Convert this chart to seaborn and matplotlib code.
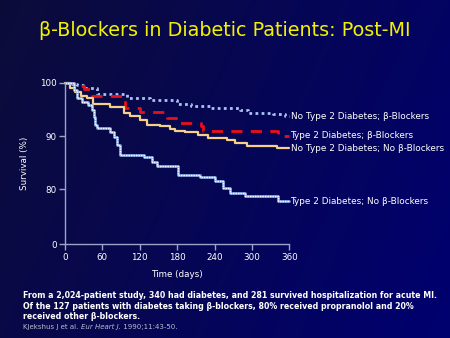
import numpy as np
import pandas as pd
import matplotlib
matplotlib.use("Agg")
import matplotlib.pyplot as plt
import seaborn as sns

# ---- data ----
series_names = [
    "No Type 2 Diabetes; β-Blockers",
    "Type 2 Diabetes; β-Blockers",
    "No Type 2 Diabetes; No β-Blockers",
    "Type 2 Diabetes; No β-Blockers",
]
nd_bb_days = [0, 12, 19, 29, 51, 99, 136, 179, 203, 235, 281, 294, 334, 353, 360]
nd_bb_surv = [100, 99.8, 99.5, 99.0, 97.9, 97.1, 96.8, 96.0, 95.7, 95.2, 94.9, 94.4, 94.1, 93.7, 93.7]

d_bb_days = [0, 14, 30, 43, 96, 120, 163, 181, 219, 222, 342, 360]
d_bb_surv = [100, 99.3, 98.8, 97.6, 95.2, 94.6, 93.3, 92.4, 91.8, 91.0, 90.1, 90.1]

nd_nb_days = [0, 8, 16, 25, 35, 45, 72, 94, 104, 120, 131, 152, 169, 177, 193, 213, 230, 260, 273, 292, 340, 360]
nd_nb_surv = [100, 99.0, 98.2, 97.6, 97.1, 96.1, 95.5, 94.3, 93.8, 93.0, 92.1, 91.8, 91.3, 91.0, 90.7, 90.2, 89.7, 89.3, 88.7, 88.2, 87.7, 87.7]

d_nb_days = [0, 12, 15, 19, 27, 37, 43, 46, 48, 51, 64, 72, 78, 83, 88, 126, 139, 147, 182, 217, 241, 254, 265, 289, 342, 360]
d_nb_surv = [100, 99.9, 98.6, 97.1, 96.4, 95.8, 94.9, 93.6, 92.1, 91.6, 91.5, 90.8, 89.9, 88.4, 86.5, 86.1, 85.2, 84.3, 82.7, 82.4, 81.5, 80.3, 79.3, 78.8, 77.8, 77.8]

x_ticks = [0, 60, 120, 180, 240, 300, 360]
y_tick_vals = [69.7, 80, 90, 100]
y_tick_labels = ["0", "80", "90", "100"]

title = "β-Blockers in Diabetic Patients: Post-MI"
note_lines = [
    "From a 2,024-patient study, 340 had diabetes, and 281 survived hospitalization for acute MI.",
    "Of the 127 patients with diabetes taking β-blockers, 80% received propranolol and 20%",
    "received other β-blockers.",
]
citation_parts = [("Kjekshus J et al. ", "normal"), ("Eur Heart J.", "italic"), (" 1990;11:43-50.", "normal")]

frames = []
for name, d, s in zip(series_names,
                      [nd_bb_days, d_bb_days, nd_nb_days, d_nb_days],
                      [nd_bb_surv, d_bb_surv, nd_nb_surv, d_nb_surv]):
    frames.append(pd.DataFrame({"day": d, "surv": s, "group": name}))
df = pd.concat(frames, ignore_index=True)

sns.set_theme(style="white")
plt.rcParams["font.family"] = ["DejaVu Sans"]

fig = plt.figure(figsize=(4.5, 3.38), dpi=100)

# background gradient
bg = fig.add_axes([0, 0, 1, 1])
gx = np.linspace(0, 1, 200)
gy = np.linspace(0, 1, 150)
X, Y = np.meshgrid(gx, gy)
t = np.clip(0.75 * X + 0.25 * Y, 0, 1)
c0 = np.array([12, 12, 58]) / 255.0
c1 = np.array([0, 0, 112]) / 255.0
img = c0[None, None, :] * (1 - t[..., None]) + c1[None, None, :] * t[..., None]
bg.imshow(img, aspect="auto", extent=[0, 1, 0, 1], origin="upper")
bg.set_axis_off()

ax = fig.add_axes([65 / 450, 1 - 244.3 / 338, (289.3 - 65) / 450, (244.3 - 82.7) / 338])
ax.set_facecolor("none")

styles = {
    series_names[0]: dict(color="#a9c3f2", lw=2.0, ls=(0, (1, 1.2))),
    series_names[1]: dict(color="#e8101a", lw=2.0, ls=(0, (4, 3))),
    series_names[2]: dict(color="#f6cf8a", lw=1.6, ls="-"),
    series_names[3]: dict(color="#8eaee6", lw=1.9, ls="-"),
}
for name in series_names:
    sub = df[df["group"] == name]
    st = styles[name]
    sns.lineplot(data=sub, x="day", y="surv", ax=ax, estimator=None, sort=False,
                 drawstyle="steps-post", color=st["color"], linewidth=st["lw"],
                 linestyle=st["ls"], clip_on=False, legend=False)
    if name == series_names[3]:
        sns.lineplot(data=sub, x="day", y="surv", ax=ax, estimator=None, sort=False,
                     drawstyle="steps-post", color="white", linewidth=1.0,
                     linestyle=(0, (1, 0.8)), clip_on=False, legend=False)
    ax.text(362, sub["surv"].iloc[-1], name, color="white", fontsize=6.4,
            va="center", ha="left")

ax.set_xlim(0, 360)
ax.set_ylim(69.7, 100)
ax.set_xticks(x_ticks)
ax.set_xticklabels([str(v) for v in x_ticks])
ax.set_yticks(y_tick_vals)
ax.set_yticklabels(y_tick_labels)
spine_c = "#9aa3c8"
for sp in ["top", "right"]:
    ax.spines[sp].set_visible(False)
for sp in ["left", "bottom"]:
    ax.spines[sp].set_color(spine_c)
    ax.spines[sp].set_linewidth(1.0)
ax.tick_params(axis="both", colors=spine_c, labelcolor="white", labelsize=6.3,
               length=4, width=1.0, direction="out", pad=2,
               bottom=True, left=True)
ax.set_xlabel("Time (days)", color="white", fontsize=6.3, labelpad=6)
ax.set_ylabel("Survival (%)", color="white", fontsize=6.3, labelpad=8)
ax.grid(False)

fig.text(0.5, 1 - 30 / 338, title, color="#f2f200", fontsize=13.8,
         ha="center", va="center")
for i, line in enumerate(note_lines):
    fig.text(23 / 450, 1 - (296 + i * 10.3) / 338, line, color="white",
             fontsize=5.65, ha="left", va="center", fontweight="bold")

renderer = fig.canvas.get_renderer()
xpos = 23
for txt, style in citation_parts:
    tt = fig.text(xpos / 450, 1 - 327 / 338, txt, color="#b8bcd0",
                  fontsize=5.0, ha="left", va="center", style=style)
    bb = tt.get_window_extent(renderer=renderer)
    xpos += bb.width

fig.savefig("out.png", dpi=100)
